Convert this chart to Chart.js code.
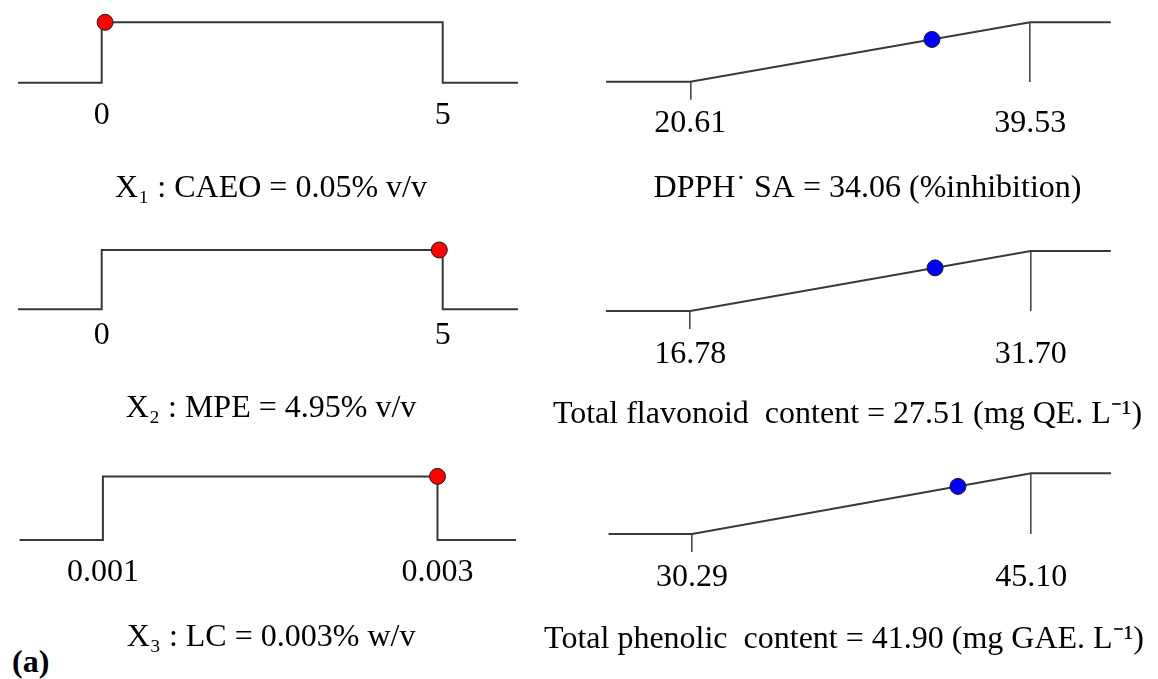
<!DOCTYPE html>
<html><head><meta charset="utf-8">
<script src="https://cdn.jsdelivr.net/npm/chart.js@4.4.1/dist/chart.umd.min.js"></script>
<style>
html,body{margin:0;padding:0;background:#fff;}
#wrap{position:relative;width:1158px;height:679px;overflow:hidden;background:#fff;}
#wrap canvas{position:absolute;}
#tag{position:absolute;left:12px;top:645px;font:bold 32px 'Liberation Serif','Times New Roman',serif;line-height:32px;color:#000;}
</style></head><body>
<div id="wrap"><div id="tag">(a)</div></div>
<script>
// ---- factors (left column) ----
const factorTitles = ['X\u2081 : CAEO = 0.05% v/v', 'X\u2082 : MPE = 4.95% v/v', 'X\u2083 : LC = 0.003% w/v'];
const factorLow = [0, 0, 0.001];
const factorHigh = [5, 5, 0.003];
const factorValue = [0.05, 4.95, 0.003];
const factorTickLabels = [['0', '5'], ['0', '5'], ['0.001', '0.003']];

// ---- responses (right column) ----
const responseTitles = ['DPPH\u02D9 SA = 34.06 (%inhibition)', 'Total flavonoid  content = 27.51 (mg QE. L\u207B\u00B9)', 'Total phenolic  content = 41.90 (mg GAE. L\u207B\u00B9)'];
const responseLow = [20.61, 16.78, 30.29];
const responseHigh = [39.53, 31.70, 45.10];
const responseValue = [34.06, 27.51, 41.90];
const responseDesirability = [0.711, 0.719, 0.784];
const responseTickLabels = [['20.61', '39.53'], ['16.78', '31.70'], ['30.29', '45.10']];

// ---- layout (pixel geometry only) ----
// ax0/ax1: chart area edges; x0/x1: ends of the drawn profile; pLo/pHi: pixel of low/high limits
const leftLayout = [
  {cl: 0, cw: 545, ax0: 12, ax1: 530, x0: 18, x1: 518, pLo: 101.7, pHi: 442.7, top: 22.3, base: 82.7, lab: 33, title: 189},
  {cl: 0, cw: 545, ax0: 12, ax1: 530, x0: 18, x1: 518, pLo: 101.7, pHi: 442.7, top: 250, base: 309.3, lab: 26, title: 409},
  {cl: 0, cw: 545, ax0: 12, ax1: 530, x0: 19.6, x1: 516, pLo: 102.9, pHi: 437.5, top: 476.4, base: 540, lab: 32.5, title: 638}
];
const rightLayout = [
  {cl: 530, cw: 628, ax0: 586, ax1: 1150, x0: 606, x1: 1111.7, pLo: 690.5, pHi: 1031, top: 22.3, base: 81.7, lab: 42, title: 189},
  {cl: 530, cw: 628, ax0: 546, ax1: 1150, x0: 606, x1: 1111.7, pLo: 690.5, pHi: 1031.5, top: 251, base: 311, lab: 43.5, title: 415},
  {cl: 530, cw: 628, ax0: 536, ax1: 1150, x0: 606, x1: 1111.7, pLo: 690, pHi: 1031.5, top: 473.3, base: 534, lab: 44, title: 640}
];

const FONT = "'Liberation Serif','Times New Roman',serif";
const LINE = '#383838';
const TICK = '#4a4a4a';

function makePanel(kind, i) {
  const L = kind === 'factor' ? leftLayout[i] : rightLayout[i];
  const lo = kind === 'factor' ? factorLow[i] : responseLow[i];
  const hi = kind === 'factor' ? factorHigh[i] : responseHigh[i];
  const labels = kind === 'factor' ? factorTickLabels[i] : responseTickLabels[i];
  const title = kind === 'factor' ? factorTitles[i] : responseTitles[i];
  const ppu = (L.pHi - L.pLo) / (hi - lo);
  const px2v = p => lo + (p - L.pLo) / ppu;
  const axMin = px2v(L.ax0), axMax = px2v(L.ax1);
  const lineMin = px2v(L.x0), lineMax = px2v(L.x1);

  const padTop = 14;
  const canvasTop = Math.round(L.top) - padTop;
  const AH = L.title - L.base + 16;
  const H = Math.ceil(L.base - canvasTop + AH + 2);
  const padBottom = H - (L.base - canvasTop) - AH;

  const cv = document.createElement('canvas');
  cv.width = L.cw; cv.height = H;
  cv.style.left = L.cl + 'px'; cv.style.top = canvasTop + 'px';
  cv.style.width = L.cw + 'px'; cv.style.height = H + 'px';
  document.getElementById('wrap').appendChild(cv);

  let lineData, marker, markerColor;
  if (kind === 'factor') {
    lineData = [{x: lineMin, y: 0}, {x: lo, y: 0}, {x: lo, y: 1}, {x: hi, y: 1}, {x: hi, y: 0}, {x: lineMax, y: 0}];
    marker = [{x: factorValue[i], y: 1}];
    markerColor = '#ff0000';
  } else {
    lineData = [{x: lineMin, y: 0}, {x: lo, y: 0}, {x: hi, y: 1}, {x: lineMax, y: 1}];
    marker = [{x: responseValue[i], y: responseDesirability[i]}];
    markerColor = '#0000ff';
  }
  const isResp = kind !== 'factor';
  const tl = isResp ? 18 : 0;

  new Chart(cv, {
    type: 'scatter',
    data: {
      datasets: [
        {data: marker, pointRadius: 8, pointHoverRadius: 8, pointBackgroundColor: markerColor,
         pointBorderColor: '#1a1a1a', pointBorderWidth: 1, showLine: false, clip: false, order: 0},
        {data: lineData, showLine: true, pointRadius: 0, borderColor: LINE, borderWidth: 2,
         tension: 0, fill: false, clip: false, order: 1}
      ]
    },
    options: {
      responsive: false, animation: false, devicePixelRatio: 1,
      layout: {padding: {left: L.ax0 - L.cl, right: L.cl + L.cw - L.ax1, top: L.top - canvasTop, bottom: padBottom}},
      plugins: {legend: {display: false}, tooltip: {enabled: false}, title: {display: false}},
      scales: {
        y: {display: false, min: 0, max: 1},
        x: {
          type: 'linear', min: axMin, max: axMax,
          afterBuildTicks: s => { s.ticks = [{value: lo}, {value: hi}]; },
          afterFit: s => { s.height = AH; },
          border: {display: false},
          grid: isResp ? {
            display: true, drawOnChartArea: true, drawTicks: true, tickLength: tl,
            color: c => c.index === 1 ? TICK : 'rgba(0,0,0,0)',
            tickColor: c => c.index === 0 ? TICK : 'rgba(0,0,0,0)',
            lineWidth: 1.6, tickWidth: 1.6
          } : {display: false, drawTicks: false},
          ticks: {
            autoSkip: false, maxRotation: 0, minRotation: 0,
            padding: L.lab - tl - 16,
            color: '#000',
            font: {family: FONT, size: 32, lineHeight: 1},
            callback: (v, idx) => labels[idx]
          },
          title: {
            display: true, text: title, color: '#000',
            padding: {top: 0, bottom: 0},
            font: {family: FONT, size: 32, lineHeight: 1}
          }
        }
      }
    }
  });
}

for (let i = 0; i < 3; i++) { makePanel('factor', i); makePanel('response', i); }
</script>
</body></html>
